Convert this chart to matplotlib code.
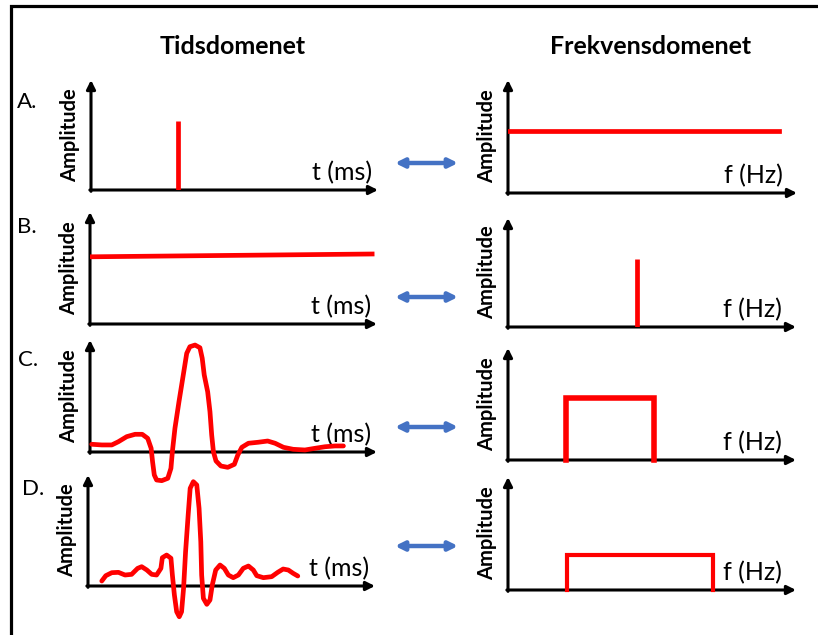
import matplotlib.pyplot as plt

plt.rcParams['font.family'] = ['Lato', 'DejaVu Sans']

W, H = 818, 635
RED = '#FF0000'
BLUE = '#4472C4'

# ---- data (panel units: x 0..10, amplitude 0..1) ----
# A: impulse in time, flat spectrum
imp_t = 3.03
imp_amp = 0.63
flat_f = [0.0, 9.38]
flat_amp = [0.55, 0.55]

# B: constant in time, impulse in frequency
const_t = [0.0, 9.83]
const_amp = [0.60, 0.625]
imp_f = 4.48
imp_f_amp = 0.62

# C: wide wavelet, narrow band box
wav_c_t = [0.06, 0.41, 0.76, 0.99, 1.28, 1.57, 1.82, 2.01, 2.13, 2.18, 2.24,
           2.32, 2.50, 2.71, 2.82, 2.87, 2.96, 3.10, 3.25, 3.37, 3.48, 3.66,
           3.83, 3.91, 3.98, 4.10, 4.18, 4.24, 4.30, 4.39, 4.56, 4.80, 5.03,
           5.15, 5.29, 5.52, 5.86, 6.19, 6.45, 6.74, 7.08, 7.49, 7.84, 8.19,
           8.54, 8.83]
wav_c_amp = [0.069, 0.063, 0.063, 0.092, 0.137, 0.158, 0.158, 0.122, 0.033,
             -0.087, -0.205, -0.250, -0.256, -0.235, -0.146, 0.003, 0.212,
             0.449, 0.688, 0.881, 0.940, 0.955, 0.931, 0.837, 0.688, 0.538,
             0.360, 0.152, 0.003, -0.080, -0.125, -0.137, -0.110, -0.027,
             0.042, 0.078, 0.087, 0.098, 0.078, 0.042, 0.024, 0.018, 0.033,
             0.047, 0.054, 0.054]
box_c_f = [2.01, 2.01, 5.07, 5.07]
box_c_amp = [0.0, 0.55, 0.55, 0.0]

# D: narrow wavelet, wide band box
wav_d_t = [0.48, 0.62, 0.83, 1.06, 1.29, 1.52, 1.73, 1.87, 2.05, 2.22, 2.39,
           2.54, 2.59, 2.74, 2.89, 2.94, 3.01, 3.09, 3.18, 3.26, 3.33, 3.40,
           3.49, 3.56, 3.67, 3.79, 3.87, 3.93, 3.96, 4.02, 4.14, 4.25, 4.33,
           4.45, 4.60, 4.75, 4.89, 5.06, 5.24, 5.41, 5.59, 5.76, 5.88, 6.11,
           6.40, 6.61, 6.80, 6.98, 7.15, 7.31]
wav_d_amp = [0.045, 0.093, 0.120, 0.123, 0.099, 0.105, 0.159, 0.174, 0.144,
             0.105, 0.099, 0.159, 0.255, 0.279, 0.250, 0.099, -0.081, -0.232,
             -0.277, -0.232, -0.021, 0.309, 0.640, 0.880, 0.940, 0.910, 0.700,
             0.399, 0.099, -0.111, -0.165, -0.126, 0.009, 0.144, 0.189, 0.159,
             0.099, 0.075, 0.099, 0.159, 0.180, 0.144, 0.093, 0.075, 0.084,
             0.123, 0.153, 0.144, 0.114, 0.090]
box_d_f = [2.05, 2.05, 7.12, 7.12]
box_d_amp = [0.0, 0.31, 0.31, 0.0]

row_labels = ['A.', 'B.', 'C.', 'D.']
titles = ['Tidsdomenet', 'Frekvensdomenet']

# panel boxes in pixels: left, right(arrow tip), top(arrow tip), bottom(x-axis)
left_boxes = [(91, 378, 80, 190), (90, 377, 212, 324),
              (90, 377, 340, 452), (88, 375, 475, 586)]
right_boxes = [(508, 797, 80, 193), (508, 796, 218, 327),
               (508, 796, 348, 460), (508, 796, 477, 590)]

fig = plt.figure(figsize=(W / 100, H / 100), dpi=100)

# decoration layer in pixel coordinates
deco = fig.add_axes([0, 0, 1, 1])
deco.set_xlim(0, W)
deco.set_ylim(H, 0)
deco.axis('off')
deco.plot([10.5, 10.5, W], [H, 5.5, 5.5], color='black', lw=2.3,
          solid_joinstyle='miter')
deco.text(233, 46, titles[0], ha='center', va='center', fontsize=18,
          fontweight='bold')
deco.text(651, 46, titles[1], ha='center', va='center', fontsize=18,
          fontweight='bold')
label_pos = [(17, 102), (17, 227), (18, 360), (22, 489)]
for lab, (x, y) in zip(row_labels, label_pos):
    deco.text(x, y, lab, ha='left', va='center', fontsize=16)
for y in [163, 297, 427, 546]:
    deco.annotate('', xy=(458, y), xytext=(395, y),
                  arrowprops=dict(arrowstyle='<|-|>', color=BLUE, lw=3.2,
                                  mutation_scale=13, shrinkA=0, shrinkB=0))


def make_panel(box, xlabel, right_pad):
    l, r, t, b = box
    ax = fig.add_axes([l / W, 1 - b / H, (r - l) / W, (b - t) / H])
    ax.set_xlim(0, 10)
    ax.set_ylim(0, 1)
    ax.axis('off')
    arrow = dict(arrowstyle='-|>', color='black', lw=2.2,
                 mutation_scale=13, shrinkA=0, shrinkB=0)
    ax.annotate('', xy=(1, 0), xytext=(-0.004, 0), xycoords='axes fraction',
                arrowprops=arrow, zorder=2)
    ax.annotate('', xy=(0, 1), xytext=(0, -0.012), xycoords='axes fraction',
                arrowprops=arrow, zorder=2)
    ax.annotate('Amplitude', xy=(0, 0.5), xycoords='axes fraction',
                xytext=(-21, 0), textcoords='offset pixels', rotation=90,
                ha='center', va='center', fontsize=14.5, fontweight='bold')
    ax.annotate(xlabel, xy=(1, 0), xycoords='axes fraction',
                xytext=(-right_pad, 10), textcoords='offset pixels',
                ha='right', va='baseline', fontsize=18)
    return ax


lw = 3.4
axA = make_panel(left_boxes[0], 't (ms)', 6)
axA.vlines(imp_t, 0, imp_amp, color=RED, lw=lw, zorder=3)
axB = make_panel(left_boxes[1], 't (ms)', 6)
axB.plot(const_t, const_amp, color=RED, lw=lw, zorder=3)
axC = make_panel(left_boxes[2], 't (ms)', 6)
axC.plot(wav_c_t, wav_c_amp, color=RED, lw=lw, zorder=3, clip_on=False,
         solid_joinstyle='round', solid_capstyle='round')
axD = make_panel(left_boxes[3], 't (ms)', 6)
axD.plot(wav_d_t, wav_d_amp, color=RED, lw=lw, zorder=3, clip_on=False,
         solid_joinstyle='round', solid_capstyle='round')

fA = make_panel(right_boxes[0], 'f (Hz)', 14)
fA.plot(flat_f, flat_amp, color=RED, lw=lw, zorder=3)
fB = make_panel(right_boxes[1], 'f (Hz)', 14)
fB.vlines(imp_f, 0, imp_f_amp, color=RED, lw=lw, zorder=3)
fC = make_panel(right_boxes[2], 'f (Hz)', 14)
fC.plot(box_c_f, box_c_amp, color=RED, lw=4, zorder=3, clip_on=False,
        solid_joinstyle='miter')
fD = make_panel(right_boxes[3], 'f (Hz)', 14)
fD.plot(box_d_f, box_d_amp, color=RED, lw=3, zorder=3, clip_on=False,
        solid_joinstyle='miter')

fig.savefig('out.png', dpi=100)
